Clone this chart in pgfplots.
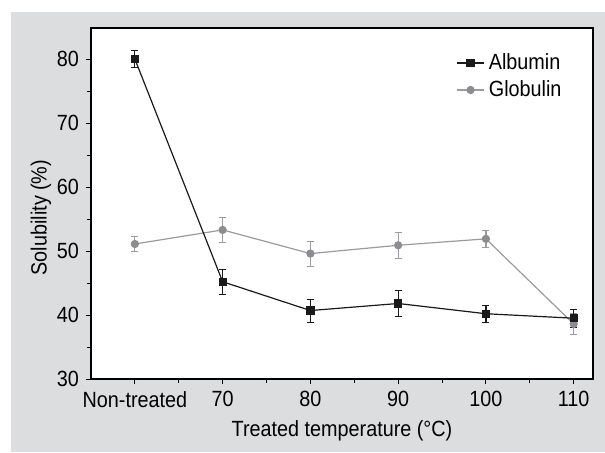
\documentclass[border=0pt]{standalone}
\usepackage{fontspec}
\setmainfont{Liberation Sans}[FakeStretch=0.9]
\usepackage{pgfplots}
\pgfplotsset{compat=1.18}
\usetikzlibrary{backgrounds}

\definecolor{bggray}{RGB}{220,221,223}
\definecolor{albc}{RGB}{26,26,26}
\definecolor{globc}{RGB}{140,141,145}
\definecolor{globl}{RGB}{155,155,158}

% temperature (Non-treated plotted at 60), solubility, error
\pgfplotstableread{
x   y    e
60  80.0 1.35
70  45.2 1.95
80  40.7 1.80
90  41.8 2.00
100 40.2 1.30
110 39.5 1.40
}\albumin
\pgfplotstableread{
x   y    e
60  51.1 1.20
70  53.3 2.00
80  49.6 1.95
90  50.9 2.00
100 51.9 1.30
110 38.6 1.60
}\globulin

\begin{document}
\begin{tikzpicture}
\begin{axis}[
  scale only axis,
  width=251pt, height=175.5pt,
  xmin=55, xmax=112.2,
  ymin=30, ymax=84.85,
  xtick={60,70,80,90,100,110},
  xticklabels={Non-treated,70,80,90,100,110},
  minor xtick={65,75,85,95,105},
  ytick={30,40,50,60,70,80},
  minor ytick={35,45,55,65,75},
  tick align=outside,
  xtick pos=left, ytick pos=left,
  major tick length=2.5pt, minor tick length=1.8pt,
  every tick/.style={black, line width=0.5pt},
  axis line style={line width=0.6pt},
  axis background/.style={fill=white},
  font=\fontsize{11}{13.5}\selectfont,
  /pgf/number format/assume math mode=true,
  xlabel={Treated temperature (°C)},
  ylabel={Solubility (\%)},
  ylabel style={at={(ticklabel cs:0.46,-4pt)}},
  reverse legend,
  legend style={at={(rel axis cs:0.715,0.951)}, anchor=north west,
    draw=none, fill=none, font=\fontsize{11}{13.5}\selectfont,
    row sep=0pt},
  legend cell align=left,
  legend image code/.code={%
    \draw[mark repeat=2, mark phase=2] plot coordinates {(0,0) (0.24cm,0) (0.48cm,0)};},
]
\addplot[color=globl, line width=0.6pt, mark=*, mark size=1.75pt,
  mark options={fill=globc, draw=globc},
  error bars/.cd, y dir=both, y explicit,
  error bar style={color=globl, line width=0.6pt},
  error mark options={rotate=90, mark size=1.75pt, color=globl}]
  table[x=x, y=y, y error=e] {\globulin};
\addlegendentry{Globulin}
\addplot[color=albc, line width=0.6pt, mark=square*, mark size=1.75pt,
  mark options={fill=albc, draw=albc},
  error bars/.cd, y dir=both, y explicit,
  error bar style={color=albc, line width=0.6pt},
  error mark options={rotate=90, mark size=1.75pt, color=albc}]
  table[x=x, y=y, y error=e] {\albumin};
\addlegendentry{Albumin}
\end{axis}
\begin{scope}[on background layer]
  \fill[bggray] (-40pt,-36.5pt) rectangle (257pt,183.5pt);
\end{scope}
\pgfresetboundingbox
\path[use as bounding box] (-45.5pt,-36.5pt) rectangle (257pt,189.5pt);
\end{tikzpicture}
\end{document}
